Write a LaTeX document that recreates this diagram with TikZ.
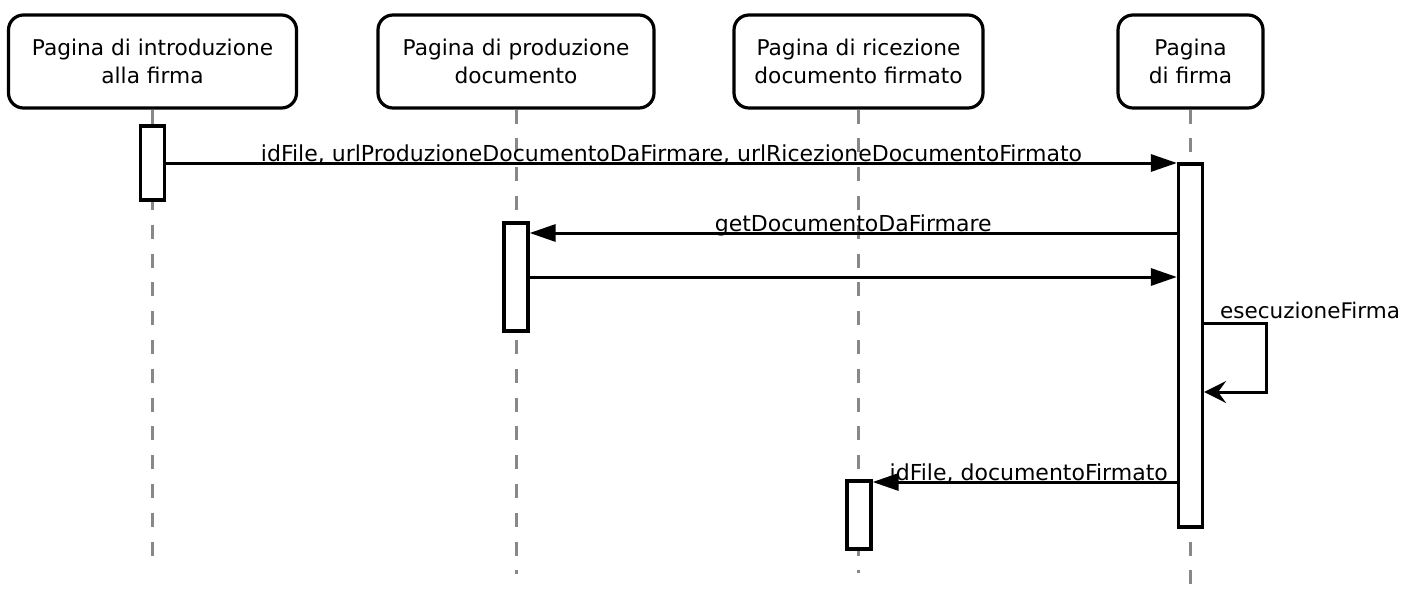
\documentclass[tikz,border=0pt]{standalone}
\usepackage{fontspec}
\setmainfont{DejaVu Sans}
\usetikzlibrary{arrows.meta}
\definecolor{lifegray}{RGB}{136,136,136}
\tikzset{
  actor/.style={draw, line width=3.2pt, rounded corners=15pt, fill=white,
    minimum height=93pt, inner sep=0pt, align=center,
    font=\fontsize{21.7}{28}\selectfont},
  lifeline/.style={draw=lifegray, line width=3pt, dash pattern=on 14pt off 14.8pt},
  activation/.style={draw, line width=3.2pt, fill=white, inner sep=0pt,
    minimum width=24pt},
  msg/.style={line width=3pt, -{Triangle[length=26pt,width=17pt]}},
  selfmsg/.style={line width=3pt, -{Stealth[length=22pt,width=22pt,inset=8pt]}},
  msglabel/.style={midway, anchor=base, yshift=1.2pt, inner sep=0pt,
    font=\fontsize{22}{26}\selectfont}
}
\begin{document}
\begin{tikzpicture}[x=1pt,y=-1pt]
\useasboundingbox (0,0) rectangle (1404,599);

% participants
\node[actor, minimum width=288pt] (b1) at (152.5,61.5) {Pagina di introduzione\\alla firma};
\node[actor, minimum width=276pt] (b2) at (516,61.5) {Pagina di produzione\\documento};
\node[actor, minimum width=249pt] (b3) at (858.5,61.5) {Pagina di ricezione\\documento firmato};
\node[actor, minimum width=145pt] (b4) at (1190.5,61.5) {Pagina\\di firma};

% lifeline ends
\coordinate (e1) at (152.5,560);
\coordinate (e2) at (516,574);
\coordinate (e3) at (858.5,573);
\coordinate (e4) at (1190.5,600);

\draw[lifeline] (b1.south) -- (e1);
\draw[lifeline] (b2.south) -- (e2);
\draw[lifeline] (b3.south) -- (e3);
\draw[lifeline] (b4.south) -- (e4);

% activation bars
\node[activation, minimum height=74pt] (a1) at (152.5,163) {};
\node[activation, minimum height=108pt] (a2) at (516,277) {};
\node[activation, minimum height=68pt] (a3) at (859,515) {};
\node[activation, minimum height=363pt] (a4) at (1190.5,345.5) {};

% messages
\draw[msg] (a1.east |- 0,163) -- (a4.west |- 0,163)
  node[msglabel] {idFile, urlProduzioneDocumentoDaFirmare, urlRicezioneDocumentoFirmato};
\draw[msg] (a4.west |- 0,233) -- (a2.east |- 0,233)
  node[msglabel] {getDocumentoDaFirmare};
\draw[msg] (a2.east |- 0,277) -- (a4.west |- 0,277);

\coordinate (loop) at (1266,323);
\draw[selfmsg] (a4.east |- loop) -- (loop) |- (a4.east |- 0,392);
\node[anchor=base west, inner sep=0pt, font=\fontsize{21.5}{26}\selectfont]
  (selflabel) at (1220,318) {esecuzioneFirma};

\draw[msg] (a4.west |- 0,482) -- (a3.east |- 0,482)
  node[msglabel, xshift=4pt] {idFile, documentoFirmato};
\end{tikzpicture}
\end{document}
